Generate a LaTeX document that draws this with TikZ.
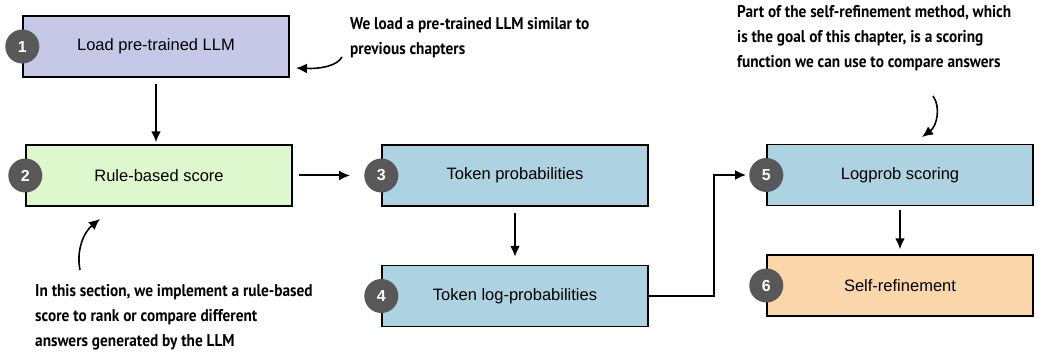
\documentclass[tikz,border=0pt]{standalone}
\usepackage{fontspec}
\setmainfont{Liberation Sans}
\newfontfamily\notefont[FakeStretch=0.9]{PT Sans}
\usetikzlibrary{arrows.meta}
\definecolor{llmpurple}{RGB}{198,200,232}
\definecolor{rulegreen}{RGB}{222,248,206}
\definecolor{tokenblue}{RGB}{173,210,226}
\definecolor{refinepeach}{RGB}{250,214,170}
\definecolor{badgegray}{RGB}{88,88,88}
\begin{document}
\begin{tikzpicture}[x=1pt, y=-1pt,
    stage/.style={draw, line width=1.4pt, minimum width=266pt, minimum height=61pt,
        font=\fontsize{16.5}{18}\selectfont},
    badge/.style={circle, fill=badgegray, text=white, minimum size=34pt, inner sep=0pt,
        font=\bfseries\fontsize{16}{18}\selectfont},
    flow/.style={line width=2pt, -{Latex[length=11pt,width=10pt]}},
    note/.style={anchor=north west, align=left, inner sep=0pt,
        font=\notefont\bfseries\fontsize{17}{25}\selectfont},
    pointer/.style={line width=1.6pt, -{Latex[length=11pt,width=10pt]}}]
    \useasboundingbox (0,0) rectangle (1041,355);

    % stages
    \node[stage, fill=llmpurple] (load) at (156,46.5) {Load pre-trained LLM};
    \node[stage, fill=rulegreen] (rule) at (159,175.5) {Rule-based score};
    \node[stage, fill=tokenblue] (prob) at (515,175.5) {Token probabilities};
    \node[stage, fill=tokenblue] (logp) at (515,296) {Token log-probabilities};
    \node[stage, fill=tokenblue] (score) at (900,175) {Logprob scoring};
    \node[stage, fill=refinepeach] (refine) at (900,285.5) {Self-refinement};

    % numbered badges
    \foreach \s/\n in {load/1, rule/2, prob/3, logp/4, score/5, refine/6}
        \node[badge] (b\n) at (\s.west) {\n};

    % flow between stages
    \draw[flow, shorten <=6pt, shorten >=2pt] (load.south) -- (load.south |- rule.north);
    \draw[flow, shorten <=6pt, shorten >=14pt] (rule.east) -- (b3.west);
    \draw[flow, shorten <=6pt, shorten >=8pt] (prob.south) -- (logp.north);
    \draw[flow, shorten >=3pt] (logp.east) -- ++(65,0) |- (b5.west);
    \draw[flow, shorten <=4pt, shorten >=5pt] (score.south) -- (refine.north);

    % notes
    \node[note] (noteload) at (350,17) {We load a pre-trained LLM similar to\\previous chapters};
    \node[note] (notegoal) at (737,5) {Part of the self-refinement method, which\\is the goal of this chapter, is a scoring\\function we can use to compare answers};
    \node[note] (noterule) at (35,284) {In this section, we implement a rule-based\\score to rank or compare different\\answers generated by the LLM};

    \coordinate (loadfrom) at (342,57);
    \coordinate (loadtip) at (296,68);
    \coordinate (goalfrom) at (933,96);
    \coordinate (goaltip) at (922,137);
    \coordinate (rulefrom) at (80,270);
    \coordinate (ruletip) at (100,219);
    \draw[pointer] (loadfrom) .. controls (337,66) and (320,69) .. (loadtip);
    \draw[pointer] (goalfrom) .. controls (941,107) and (937,126) .. (goaltip);
    \draw[pointer] (rulefrom) .. controls (76,250) and (84,232) .. (ruletip);
\end{tikzpicture}
\end{document}
